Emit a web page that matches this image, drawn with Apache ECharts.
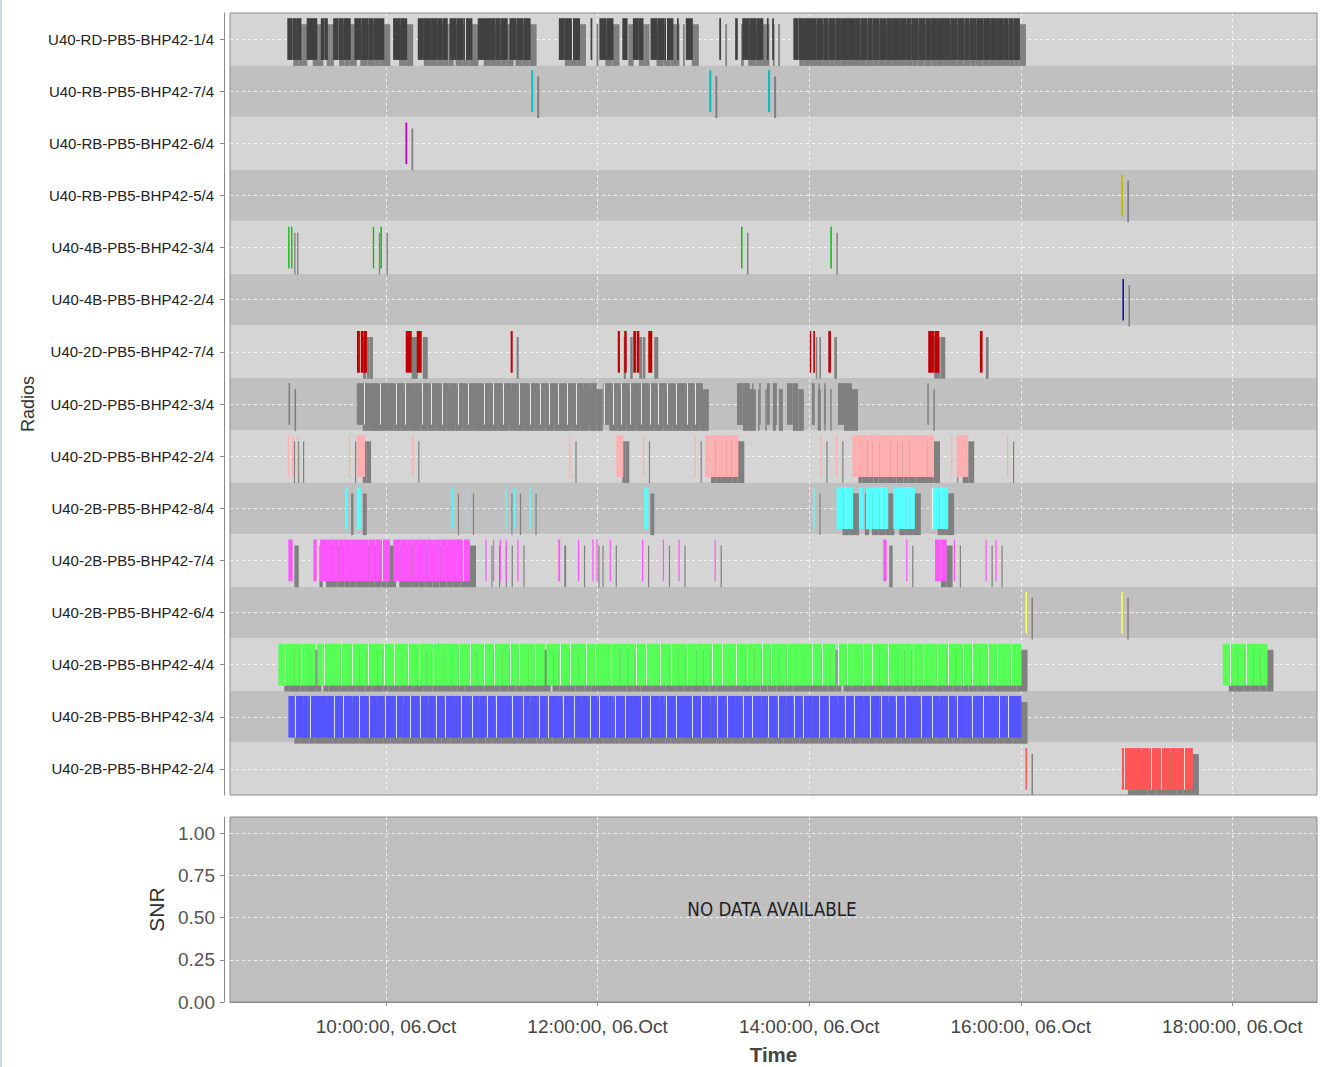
<!DOCTYPE html>
<html><head><meta charset="utf-8">
<script src="https://cdn.jsdelivr.net/npm/echarts@6/dist/echarts.min.js"></script>
<style>
html,body{margin:0;padding:0;background:#fff;}
#chart{position:absolute;left:0;top:0;width:1327px;height:1067px;}
#frame{position:absolute;left:0;top:0;width:2px;height:1067px;background:#cfd7e2;}
</style>
</head><body><div id="chart"></div><div id="frame"></div>
<script>
// ---------- data ----------
const radios = ['U40-RD-PB5-BHP42-1/4','U40-RB-PB5-BHP42-7/4','U40-RB-PB5-BHP42-6/4','U40-RB-PB5-BHP42-5/4',
  'U40-4B-PB5-BHP42-3/4','U40-4B-PB5-BHP42-2/4','U40-2D-PB5-BHP42-7/4','U40-2D-PB5-BHP42-3/4',
  'U40-2D-PB5-BHP42-2/4','U40-2B-PB5-BHP42-8/4','U40-2B-PB5-BHP42-7/4','U40-2B-PB5-BHP42-6/4',
  'U40-2B-PB5-BHP42-4/4','U40-2B-PB5-BHP42-3/4','U40-2B-PB5-BHP42-2/4'];

const timeRange = ['8:31:30', '18:48:00'];
const tickTimes = ['10:00', '12:00', '14:00', '16:00', '18:00'];
const tickLabels = ['10:00:00, 06.Oct', '12:00:00, 06.Oct', '14:00:00, 06.Oct', '16:00:00, 06.Oct', '18:00:00, 06.Oct'];
const snrTicks = [0, 0.25, 0.5, 0.75, 1.0];
const snrMax = 1.095;
const noDataText = 'NO DATA AVAILABLE';

// each row: list of runs; a run lists consecutive interval boundaries (HH:MM[:SS])
const rd_1_4 = [
  ['9:04','9:07','9:09','9:12'], ['9:15','9:18','9:21'], ['9:23','9:25','9:27'],
  ['9:30','9:33','9:36','9:40'], ['9:42','9:46','9:50','9:53','9:56','9:59'],
  ['10:04','10:08','10:12'], ['10:18','10:21','10:25','10:29','10:32','10:35'],
  ['10:36','10:40','10:44','10:49'], ['10:52','10:55','10:59','11:02','11:05','11:09'],
  ['11:10','11:14','11:18','11:22'], ['11:38','11:41','11:45','11:50'], ['11:56','11:57'],
  ['12:01','12:05','12:09'], ['12:14','12:17'], ['12:20','12:23','12:26'],
  ['12:30','12:34','12:38','12:43'], ['12:45','12:46'], ['12:50','12:54'], ['13:09','13:10'],
  ['13:18','13:19:30'], ['13:22','13:26','13:30','13:34'], ['13:36','13:37'], ['13:39','13:40'],
  ['13:51','13:54','13:57','14:01','14:04','14:08','14:11','14:15','14:18','14:22','14:26','14:29',
   '14:33','14:36','14:40','14:44','14:47','14:51','14:55','14:58','15:02','15:06','15:09','15:13',
   '15:17','15:20','15:24','15:28','15:31','15:35','15:39','15:43','15:46','15:50','15:53','15:56','15:59:30']
];
const rb_7_4 = [['11:22:20','11:23:30'], ['13:03:20','13:04:30'], ['13:36:40','13:37:50']];
const rb_6_4 = [['10:11:00','10:12:00']];
const rb_5_4 = [['16:57:00','16:58:00']];
const b4_3_4 = [['9:04:30','9:05:15'], ['9:06:10','9:06:55'], ['9:52:30','9:53:15'], ['9:56:50','9:57:40'],
  ['13:21:20','13:22:10'], ['14:12:00','14:12:50']];
const b4_2_4 = [['16:57:40','16:58:30']];
const d2_7_4 = [['9:43:30','9:45:10'], ['9:45:40','9:47:20'], ['9:47:30','9:49:10'], ['10:11:10','10:14:35'],
  ['10:17:25','10:20:15'], ['11:10:40','11:11:50'], ['12:11:25','12:12:40'], ['12:15:05','12:16:30'],
  ['12:20:13','12:21:45'], ['12:22:10','12:23:40'], ['12:28:43','12:31:00'], ['14:00:20','14:01:10'],
  ['14:02:20','14:03:15'], ['14:10:50','14:12:20'], ['15:07:30','15:10:45'], ['15:11:00','15:13:45'],
  ['15:36:48','15:38:20']];
const d2_3_4 = [['9:04:40','9:05:35'],
  ['9:43:24','9:47','9:52','9:56','10:01','10:05','10:10','10:16','10:20','10:25','10:31','10:36','10:40',
   '10:46','10:51','10:55','11:00','11:06','11:11','11:15','11:21','11:27','11:32','11:37','11:42','11:47',
   '11:52','11:56','11:59:30'],
  ['12:03:12','12:08','12:13','12:18','12:24','12:29','12:34','12:39','12:44','12:50','12:55','12:59:40'],
  ['13:19:00','13:22','13:26:20'], ['13:27:40','13:28:30'], ['13:31:40','13:32:30'], ['13:36:00','13:37:40'],
  ['13:39:25','13:41:40'], ['13:47:25','13:50:30','13:53:35'], ['14:01:30','14:03:10'], ['14:05:10','14:06:00'],
  ['14:08:30','14:09:20'], ['14:16:20','14:20:20','14:24:15'], ['15:07:00','15:07:50']];
const d2_2_4 = [['9:04:20','9:05:00'], ['9:06:40','9:07:20'], ['9:09:30','9:10:10'], ['9:39:00','9:39:40'],
  ['9:43:24','9:45:40','9:48:06'], ['10:14:50','10:15:30'], ['11:44:00','11:44:40'],
  ['12:10:36','12:12:30','12:14:34'], ['12:25:40','12:26:20'], ['12:55:00','12:55:40'],
  ['13:00:54','13:04','13:07','13:10','13:13','13:16','13:19:48'], ['14:06:20','14:07:00'], ['14:15:20','14:16:00'],
  ['14:24:30','14:27','14:30','14:33','14:36','14:40','14:43','14:46','14:50','14:53','14:57','15:00','15:04',
   '15:07','15:10:48'],
  ['15:20:30','15:21:10'], ['15:23:36','15:26:50','15:30:10'], ['15:52:10','15:52:50']];
const b2_8_4 = [['9:36:48','9:38:06'], ['9:43:24','9:45:40'], ['10:37:20','10:38:00'], ['10:45:50','10:46:30'],
  ['11:07:40','11:08:20'], ['11:12:30','11:13:10'], ['11:21:20','11:22:00'], ['12:26:30','12:28:45'],
  ['14:02:20','14:03:00'], ['14:15:30','14:19:30','14:24:55'], ['14:28:10','14:30:30'],
  ['14:32:10','14:36','14:40','14:44:50'], ['14:47:40','14:51','14:55','14:59:55'], ['15:09:25','15:14','15:18:50']];
const b2_7_4 = [['9:04:36','9:07:05'], ['9:18:50','9:20:40'],
  ['9:22:36','9:26','9:29','9:33','9:36','9:40','9:43','9:47','9:50','9:54','9:57','10:02:15'],
  ['10:04:08','10:08','10:12','10:15','10:19','10:23','10:27','10:31','10:35','10:39','10:43','10:47:38'],
  ['10:56:20','10:57:00'], ['11:00:40','11:01:20'], ['11:04:30','11:05:10'], ['11:07:50','11:08:30'],
  ['11:14:30','11:15:10'], ['11:37:40','11:38:45'], ['11:48:50','11:49:30'], ['11:57:00','11:57:40'],
  ['11:59:20','12:00:00'], ['12:06:50','12:07:30'], ['12:25:10','12:25:50'], ['12:37:00','12:37:40'],
  ['12:45:50','12:46:30'], ['13:06:20','13:07:00'], ['14:42:00','14:43:55'], ['14:55:00','14:55:40'],
  ['15:11:20','15:14:30','15:17:55'], ['15:22:00','15:22:40'], ['15:40:00','15:40:40'], ['15:45:40','15:46:20']];
const b2_6_4 = [['16:02:40','16:03:30'], ['16:57:00','16:57:50']];
const b2_4_4 = [
  ['8:58:55','9:02','9:08','9:11','9:17','9:20'], ['9:21','9:24','9:31','9:34','9:40','9:45','9:49','9:55','9:58',
   '10:04','10:09','10:12','10:18','10:23','10:26','10:33','10:37','10:41','10:47','10:52','10:55','11:01','11:06',
   '11:10','11:15','11:21','11:24','11:30'], ['11:31','11:35','11:38','11:44','11:49','11:53','11:58','12:03','12:07',
   '12:13','12:17','12:21','12:27','12:32','12:35','12:41','12:46','12:50','12:56','13:00','13:04','13:10','13:15',
   '13:18','13:24','13:29','13:33','13:38','13:43','13:47','13:53','13:57','14:01','14:07','14:12','14:15'],
  ['14:16','14:21','14:26','14:30','14:35','14:40','14:44','14:50','14:54','14:58','15:04','15:09','15:12','15:18',
   '15:23','15:27','15:32','15:37','15:41','15:46','15:51','15:54','16:00:25'],
  ['17:54:36','17:58','18:03','18:07','18:12','18:16','18:19:55']];
const b2_3_4 = [
  ['9:04:36','9:08','9:13','9:16','9:22','9:26','9:30','9:35','9:41','9:44','9:50','9:55','9:59','10:05','10:10',
   '10:13','10:19','10:24','10:28','10:33','10:39','10:42','10:48','10:53','10:57','11:02','11:08','11:11','11:17',
   '11:22','11:26','11:31','11:37','11:40','11:46','11:51','11:55','12:00','12:06','12:09','12:15','12:20','12:24',
   '12:29','12:35','12:38','12:44','12:49','12:53','12:58','13:04','13:07','13:13','13:18','13:22','13:27','13:33',
   '13:36','13:42','13:47','13:51','13:56','14:02','14:05','14:11','14:16','14:20','14:25','14:31','14:34','14:40',
   '14:45','14:49','14:54','15:00','15:03','15:09','15:14','15:18','15:23','15:29','15:32','15:38','15:43','15:47',
   '15:52','16:00:25']];
const b2_2_4 = [['16:02:40','16:03:30'], ['16:57:20','17:08:30','17:13','17:19','17:25','17:29','17:32','17:37:35']];

const rows = [rd_1_4, rb_7_4, rb_6_4, rb_5_4, b4_3_4, b4_2_4, d2_7_4, d2_3_4, d2_2_4,
              b2_8_4, b2_7_4, b2_6_4, b2_4_4, b2_3_4, b2_2_4];

// ---------- styles ----------
const rowColors = ['#404040','#00C0C0','#C000C0','#C0C000','#00C000','#0000C0','#C00000','#808080',
                   '#FFAFAF','#55FFFF','#FF55FF','#FFFF55','#55FF55','#5555FF','#FF5555'];
const shadowColor = '#808080';
const SHADOW = 6;

function toHours(s) { const p = s.split(':').map(Number); return p[0] + (p[1] || 0) / 60 + (p[2] || 0) / 3600; }

const items = [];
rows.forEach((runs, ri) => runs.forEach(run => {
  for (let k = 0; k < run.length - 1; k++) items.push([toHours(run[k]), toHours(run[k + 1]), ri]);
}));
const tickHours = tickTimes.map(toHours);
const rowIdx = radios.map((_, i) => i);

function renderItem(params, api) {
  const r = api.value(2);
  const p0 = api.coord([api.value(0), r]);
  const p1 = api.coord([api.value(1), r]);
  const band = api.size([0, 1])[1];
  const h = band * 0.8;
  const x = p0[0], y = p0[1] - h / 2;
  const w = Math.max(p1[0] - p0[0], 1.2);
  const children = [
    { type: 'rect', shape: { x: x + SHADOW, y: y + SHADOW, width: w, height: h }, style: { fill: shadowColor } },
    { type: 'rect', shape: { x: x, y: y, width: w, height: h }, style: { fill: rowColors[r] } }
  ];
  if (w >= 8) {
    children.push({ type: 'rect', shape: { x: Math.round(x + w * 0.1), y: y, width: 1, height: h },
      style: { fill: '#ffffff', opacity: 0.8 } });
  }
  return { type: 'group', children: children };
}

const FONT = '"Liberation Sans", Arial, sans-serif';
const dash = { show: true, lineStyle: { color: '#ffffff', type: [3, 3], width: 1, opacity: 0.75 } };
const chart = echarts.init(document.getElementById('chart'), null, { renderer: 'svg' });
chart.setOption({
  animation: false,
  backgroundColor: '#ffffff',
  grid: [
    { left: 230, right: 10, top: 13, height: 782, show: true, borderColor: '#8a8a8a', borderWidth: 1, backgroundColor: 'transparent', z: 3 },
    { left: 230, right: 10, top: 817, height: 185, show: true, borderColor: '#8a8a8a', borderWidth: 1, backgroundColor: '#c0c0c0' }
  ],
  xAxis: [
    { gridIndex: 0, type: 'value', min: toHours(timeRange[0]), max: toHours(timeRange[1]),
      axisLine: { show: false }, axisTick: { show: false, customValues: tickHours },
      axisLabel: { show: false, customValues: tickHours }, splitLine: dash },
    { gridIndex: 1, type: 'value', min: toHours(timeRange[0]), max: toHours(timeRange[1]), position: 'bottom', offset: 6,
      axisLine: { show: true, lineStyle: { color: '#8a8a8a', width: 1 } },
      axisTick: { show: true, customValues: tickHours, length: 4, lineStyle: { color: '#8a8a8a' } },
      axisLabel: { customValues: tickHours, formatter: v => tickLabels[tickHours.indexOf(v)] || '',
        color: '#444', fontSize: 19, fontFamily: FONT, margin: 9 },
      splitLine: dash,
      name: 'Time', nameLocation: 'middle', nameGap: 36,
      nameTextStyle: { fontFamily: FONT, fontSize: 20.5, fontWeight: 'bold', color: '#444' } }
  ],
  yAxis: [
    { gridIndex: 0, type: 'category', data: radios, inverse: true, offset: 6,
      axisLine: { show: true, lineStyle: { color: '#8a8a8a' } },
      axisTick: { show: true, alignWithLabel: true, length: 4, lineStyle: { color: '#8a8a8a' } },
      axisLabel: { interval: 0, fontFamily: FONT, fontSize: 15, color: '#222', margin: 10 },
      splitLine: { show: false },
      splitArea: { show: true, areaStyle: { color: ['#d4d5d4', '#c0c0c0'] } },
      name: 'Radios', nameLocation: 'middle', nameRotate: 90, nameGap: 186,
      nameTextStyle: { fontFamily: FONT, fontSize: 18, color: '#333' } },
    { gridIndex: 0, type: 'value', min: -0.5, max: rowIdx.length - 0.5, inverse: true,
      axisLine: { show: false }, axisTick: { show: false, customValues: rowIdx },
      axisLabel: { show: false, customValues: rowIdx }, splitLine: dash },
    { gridIndex: 1, type: 'value', min: 0, max: snrMax, offset: 6,
      axisLine: { show: true, lineStyle: { color: '#8a8a8a' } },
      axisTick: { show: true, customValues: snrTicks, length: 4, lineStyle: { color: '#8a8a8a' } },
      axisLabel: { customValues: snrTicks, formatter: v => v.toFixed(2), color: '#555', fontSize: 19, fontFamily: FONT, margin: 9 },
      splitLine: dash,
      name: 'SNR', nameLocation: 'middle', nameRotate: 90, nameGap: 55,
      nameTextStyle: { fontFamily: FONT, fontSize: 21, color: '#333' } }
  ],
  graphic: [
    { type: 'text', x: 772, y: 909, z: 10, style: { text: noDataText, textAlign: 'center', textVerticalAlign: 'middle',
      fill: '#222', font: '18.7px "Liberation Sans Narrow", "DejaVu Sans Condensed", sans-serif' } }
  ],
  series: [
    { type: 'custom', xAxisIndex: 0, yAxisIndex: 0, renderItem: renderItem, clip: true,
      encode: { x: [0, 1], y: 2 }, data: items },
    { type: 'line', xAxisIndex: 1, yAxisIndex: 2, data: [] }
  ]
});
</script>
</body></html>
